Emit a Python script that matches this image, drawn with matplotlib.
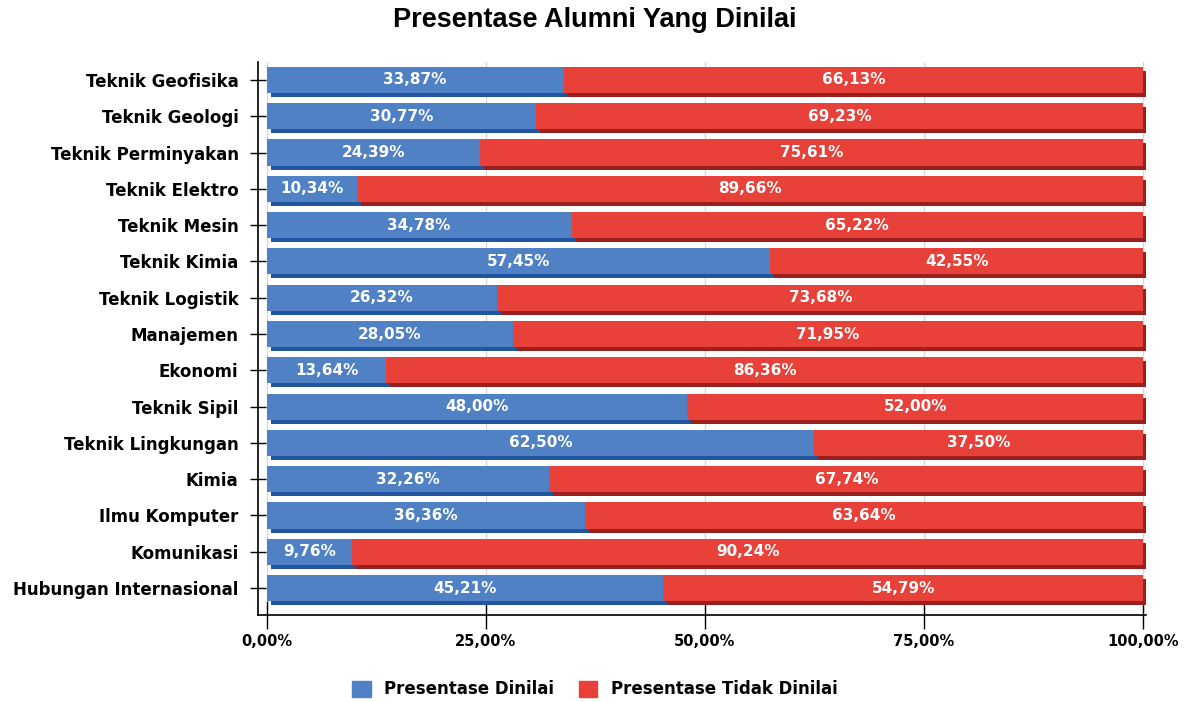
import numpy as np
import matplotlib
matplotlib.use('Agg')
import matplotlib.pyplot as plt
import matplotlib.transforms as mtransforms
from matplotlib.patches import Patch

programs = ['Teknik Geofisika', 'Teknik Geologi', 'Teknik Perminyakan', 'Teknik Elektro',
            'Teknik Mesin', 'Teknik Kimia', 'Teknik Logistik', 'Manajemen', 'Ekonomi',
            'Teknik Sipil', 'Teknik Lingkungan', 'Kimia', 'Ilmu Komputer', 'Komunikasi',
            'Hubungan Internasional']
dinilai = [33.87, 30.77, 24.39, 10.34, 34.78, 57.45, 26.32, 28.05, 13.64,
           48.00, 62.50, 32.26, 36.36, 9.76, 45.21]
tidak_dinilai = [66.13, 69.23, 75.61, 89.66, 65.22, 42.55, 73.68, 71.95, 86.36,
                 52.00, 37.50, 67.74, 63.64, 90.24, 54.79]
ticks = [0, 25, 50, 75, 100]

blue = '#4f81c4'
blue_dark = '#2255a0'
red = '#e8413a'
red_dark = '#9c1f1d'

plt.rcParams['font.family'] = ['DejaVu Sans']

fig = plt.figure(figsize=(11.9, 7.02), dpi=100)
ax = fig.add_axes([0.2168, 0.124, 0.746, 0.788])

y = np.arange(len(programs))
h = 0.72

# darker shadow strip under each bar
shadow = mtransforms.offset_copy(ax.transData, fig=fig, x=4, y=-4, units='dots')
ax.barh(y, dinilai, height=h, color=blue_dark, transform=shadow, zorder=2)
ax.barh(y, tidak_dinilai, left=dinilai, height=h, color=red_dark, transform=shadow, zorder=2)

ax.barh(y, dinilai, height=h, color=blue, zorder=3)
ax.barh(y, tidak_dinilai, left=dinilai, height=h, color=red, zorder=3)

fmt = lambda v: f'{v:.2f}%'.replace('.', ',')
for i in range(len(programs)):
    ax.text(dinilai[i] / 2, y[i], fmt(dinilai[i]), ha='center', va='center',
            color='white', fontsize=11, fontweight='bold', zorder=4)
    ax.text(dinilai[i] + tidak_dinilai[i] / 2, y[i], fmt(tidak_dinilai[i]), ha='center',
            va='center', color='white', fontsize=11, fontweight='bold', zorder=4)

ax.set_xlim(-1.0, 100.3)
ax.set_ylim(14.74, -0.5)
ax.set_yticks(y)
ax.set_yticklabels(programs, fontsize=12, fontweight='bold')
ax.set_xticks(ticks)
ax.set_xticklabels([fmt(t) for t in ticks], fontsize=10.5, fontweight='bold')
ax.tick_params(axis='y', direction='inout', length=12, width=1, pad=8)
ax.tick_params(axis='x', direction='inout', length=20, width=1, pad=4)
ax.grid(axis='x', color='#d9d9d9', linewidth=1, zorder=0)
ax.set_axisbelow(True)
for s in ['top', 'right']:
    ax.spines[s].set_visible(False)
ax.spines['left'].set_linewidth(1.2)
ax.spines['bottom'].set_linewidth(1.2)

fig.suptitle('Presentase Alumni Yang Dinilai', y=0.99, fontsize=19.5, fontweight='bold',
             family='Liberation Sans')

handles = [Patch(color=blue, label='Presentase Dinilai'),
           Patch(color=red, label='Presentase Tidak Dinilai')]
fig.legend(handles=handles, loc='center', bbox_to_anchor=(0.5, 0.018), ncol=2,
           frameon=False, handlelength=1.1, handleheight=1.1, prop={'size': 12, 'weight': 'bold'},
           columnspacing=1.5, handletextpad=0.8)

fig.savefig('out.png', dpi=100)
